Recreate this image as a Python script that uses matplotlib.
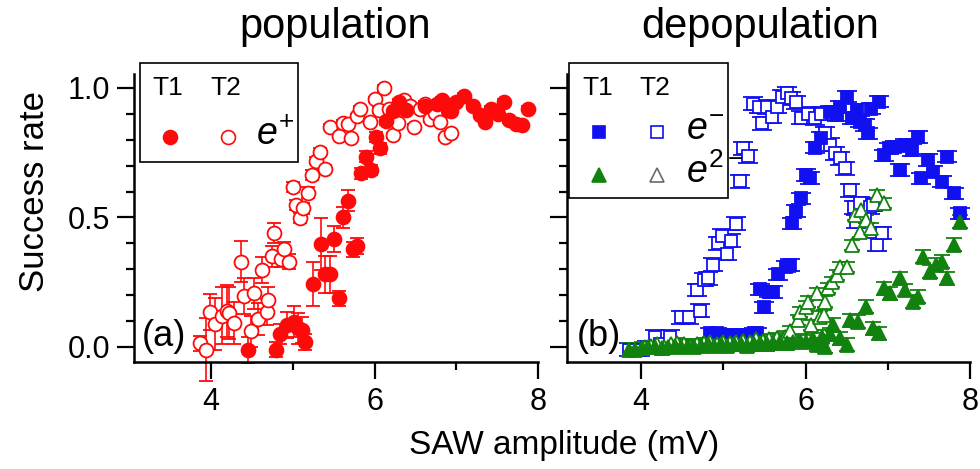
import matplotlib
matplotlib.use("Agg")
import matplotlib.pyplot as plt
from matplotlib.lines import Line2D
from matplotlib.patches import Rectangle

plt.rcParams["font.family"] = ["Liberation Sans", "DejaVu Sans"]
plt.rcParams["mathtext.fontset"] = "custom"
plt.rcParams["mathtext.rm"] = "Liberation Sans"
plt.rcParams["mathtext.it"] = "Liberation Sans:italic"

RED = "#ff0a0a"
BLUE = "#1010f0"
GREEN = "#12820f"

# (a) population, T2 open circles (e+)
pop_t2_x = [3.87, 3.94, 3.99, 4.05, 4.13, 4.19, 4.22, 4.28, 4.37, 4.40, 4.49, 4.53,
            4.58, 4.62, 4.68, 4.70, 4.74, 4.77, 4.86, 4.89, 4.96, 5.00, 5.04, 5.09,
            5.13, 5.19, 5.23, 5.28, 5.33, 5.39, 5.45, 5.56, 5.62, 5.68, 5.71, 5.79,
            5.82, 5.94, 6.01, 6.06, 6.12, 6.18, 6.23, 6.29, 6.36, 6.43, 6.48, 6.56,
            6.62, 6.68, 6.74, 6.80, 6.86, 6.94]
pop_t2_y = [0.014, -0.01, 0.136, 0.09, 0.12, 0.14, 0.13, 0.092, 0.33, 0.196, 0.06, 0.207,
            0.108, 0.297, 0.136, 0.18, 0.35, 0.44, 0.34, 0.377, 0.33, 0.617, 0.548, 0.497,
            0.535, 0.596, 0.664, 0.72, 0.752, 0.686, 0.85, 0.815, 0.866, 0.86, 0.805, 0.89,
            0.92, 0.87, 0.956, 0.915, 1.0, 0.917, 0.818, 0.866, 0.954, 0.93, 0.85, 0.917,
            0.94, 0.88, 0.905, 0.87, 0.81, 0.825]
pop_t2_err = [0.03, 0.12, 0.07, 0.1, 0.11, 0.1, 0.1, 0.08, 0.08, 0.07, 0.06, 0.06,
              0.06, 0.05, 0.05, 0.05, 0.04, 0.04, 0.03, 0.03, 0.03, 0.02, 0.02, 0.02,
              0.02, 0.02, 0.02, 0.015, 0.015, 0.015, 0.01, 0.01, 0.01, 0.01, 0.01, 0.01,
              0.01, 0.01, 0.01, 0.01, 0.01, 0.01, 0.01, 0.01, 0.01, 0.01, 0.01, 0.01,
              0.01, 0.01, 0.01, 0.01, 0.01, 0.01]

# (a) population, T1 filled circles
pop_t1_x = [4.45, 4.80, 4.84, 4.93, 5.01, 5.07, 5.11, 5.15, 5.25, 5.35, 5.39, 5.46,
            5.50, 5.57, 5.61, 5.67, 5.74, 5.79, 5.84, 5.90, 5.96, 6.02, 6.07, 6.14,
            6.23, 6.30, 6.39, 6.62, 6.76, 6.82, 6.90, 6.94, 7.00, 7.09, 7.21, 7.29,
            7.35, 7.43, 7.51, 7.58, 7.65, 7.73, 7.80, 7.88]
pop_t1_y = [-0.01, -0.01, 0.05, 0.085, 0.098, 0.072, 0.066, 0.02, 0.243, 0.397, 0.28, 0.28,
            0.417, 0.188, 0.50, 0.565, 0.377, 0.39, 0.67, 0.735, 0.683, 0.81, 0.767, 0.873,
            0.91, 0.947, 0.915, 0.93, 0.94, 0.954, 0.915, 0.91, 0.947, 0.97, 0.93, 0.896,
            0.87, 0.92, 0.9, 0.947, 0.876, 0.86, 0.857, 0.92]
pop_t1_err = [0.05, 0.03, 0.04, 0.05, 0.06, 0.06, 0.05, 0.03, 0.085, 0.1, 0.07, 0.07,
              0.05, 0.03, 0.04, 0.04, 0.03, 0.03, 0.02, 0.02, 0.02, 0.02, 0.02, 0.015,
              0.01, 0.01, 0.01, 0.01, 0.01, 0.01, 0.01, 0.01, 0.01, 0.01, 0.01, 0.01,
              0.01, 0.01, 0.01, 0.01, 0.01, 0.01, 0.01, 0.01]

# (b) depopulation, T2 open squares (e-)
dep1_t2_x = [3.85, 3.91, 3.99, 4.07, 4.17, 4.23, 4.35, 4.41, 4.49, 4.58, 4.68, 4.72,
             4.76, 4.82, 4.88, 4.94, 4.98, 5.04, 5.10, 5.16, 5.20, 5.24, 5.30, 5.36,
             5.43, 5.47, 5.53, 5.59, 5.65, 5.72, 5.77, 5.82, 5.89, 5.95, 6.03, 6.12,
             6.19, 6.24, 6.30, 6.36, 6.42, 6.48, 6.54, 6.59, 6.61, 6.66, 6.72, 6.78,
             6.82, 6.87, 6.93]
dep1_t2_y = [-0.01, -0.01, -0.01, 0.0, 0.04, 0.01, 0.04, 0.0, 0.115, 0.115, 0.22, 0.14,
             0.26, 0.265, 0.317, 0.40, 0.43, 0.36, 0.41, 0.475, 0.64, 0.767, 0.737, 0.94,
             0.928, 0.864, 0.925, 0.889, 0.928, 0.966, 0.98, 0.96, 0.945, 0.886, 0.9, 0.883,
             0.9, 0.825, 0.78, 0.748, 0.728, 0.69, 0.606, 0.54, 0.484, 0.555, 0.503, 0.54,
             0.55, 0.394, 0.44]

# (b) depopulation, T1 filled squares (e-)
dep1_t1_x = [4.84, 4.92, 5.04, 5.12, 5.20, 5.28, 5.37, 5.41, 5.45, 5.50, 5.56, 5.61,
             5.67, 5.76, 5.81, 5.83, 5.88, 5.94, 6.00, 6.06, 6.12, 6.19, 6.30, 6.38,
             6.42, 6.50, 6.56, 6.62, 6.66, 6.72, 6.76, 6.80, 6.89, 6.95, 7.01, 7.09,
             7.15, 7.21, 7.29, 7.37, 7.41, 7.49, 7.55, 7.66, 7.72, 7.80, 7.88]
dep1_t1_y = [0.053, 0.053, 0.046, 0.046, 0.046, 0.046, 0.053, 0.053, 0.223, 0.153, 0.214, 0.212,
             0.28, 0.31, 0.317, 0.477, 0.525, 0.574, 0.664, 0.653, 0.77, 0.808, 0.909, 0.896,
             0.928, 0.966, 0.883, 0.915, 0.87, 0.857, 0.825, 0.92, 0.947, 0.74, 0.767, 0.773,
             0.683, 0.78, 0.76, 0.81, 0.651, 0.722, 0.677, 0.638, 0.735, 0.593, 0.516]

# (b) depopulation, T2 open triangles (e2-)
dep2_t2_x = [4.05, 4.12, 4.20, 4.28, 4.36, 4.44, 4.52, 4.60, 4.68, 4.76, 4.84, 4.92,
             5.00, 5.08, 5.16, 5.24, 5.32, 5.40, 5.48, 5.56, 5.65, 5.75, 5.81, 5.91,
             5.93, 6.01, 6.03, 6.07, 6.14, 6.18, 6.22, 6.24, 6.27, 6.32, 6.38, 6.42,
             6.50, 6.56, 6.60, 6.66, 6.68, 6.74, 6.80, 6.87, 6.95]
dep2_t2_y = [0.0, 0.005, 0.01, 0.0, 0.01, 0.015, 0.01, 0.005, 0.01, 0.015, 0.02, 0.01,
             0.02, 0.015, 0.02, 0.025, 0.02, 0.03, 0.025, 0.03, 0.034, 0.04, 0.06, 0.104,
             0.136, 0.156, 0.175, 0.085, 0.207, 0.117, 0.124, 0.175, 0.228, 0.252, 0.278, 0.31,
             0.31, 0.394, 0.51, 0.445, 0.53, 0.49, 0.458, 0.587, 0.555]

# (b) depopulation, T1 filled triangles (e2-)
dep2_t1_x = [3.85, 3.93, 4.01, 4.09, 4.17, 4.25, 4.33, 4.41, 4.49, 4.57, 4.65, 4.73,
             4.81, 4.89, 4.97, 5.05, 5.13, 5.21, 5.29, 5.37, 5.45, 5.53, 5.61, 5.69,
             5.77, 5.85, 5.93, 6.01, 6.09, 6.14, 6.20, 6.24, 6.30, 6.34, 6.42, 6.50,
             6.54, 6.64, 6.74, 6.82, 6.89, 6.95, 7.03, 7.15, 7.21, 7.31, 7.37, 7.43,
             7.51, 7.59, 7.66, 7.72, 7.80, 7.88]
dep2_t1_y = [-0.01, -0.01, -0.005, 0.0, 0.0, -0.005, 0.0, 0.005, 0.0, 0.005, 0.0, 0.005,
             0.01, 0.005, 0.01, 0.005, 0.01, 0.01, 0.005, 0.01, 0.015, 0.01, 0.015, 0.02,
             0.015, 0.02, 0.025, 0.02, 0.03, 0.008, 0.04, 0.0, 0.05, 0.085, 0.034, 0.008,
             0.104, 0.098, 0.156, 0.072, 0.053, 0.227, 0.207, 0.265, 0.22, 0.175, 0.194, 0.349,
             0.29, 0.317, 0.33, 0.265, 0.394, 0.484]

W, H = 980, 469


def fx(px):
    return px / W


def fy(py):
    return 1 - py / H


def style_axes(ax, xmin, show_ylabels):
    ax.set_xlim(xmin, 8.0)
    ax.set_ylim(-0.058, 1.054)
    for side in ("top", "right"):
        ax.spines[side].set_visible(False)
    for side in ("left", "bottom"):
        ax.spines[side].set_linewidth(1.8)
    ax.set_xticks([4, 6, 8])
    ax.set_xticks([5, 7], minor=True)
    ax.set_yticks([0.0, 0.5, 1.0])
    ax.set_yticks([0.1, 0.2, 0.3, 0.4, 0.6, 0.7, 0.8, 0.9], minor=True)
    ax.tick_params(which="major", direction="out", length=12, width=1.6, labelsize=22)
    ax.tick_params(which="minor", direction="out", length=6, width=1.6)
    ax.tick_params(axis="x", pad=6)
    ax.tick_params(axis="y", pad=5)
    ax.set_yticklabels(["0.0", "0.5", "1.0"] if show_ylabels else [])


def draw_series(ax, x, y, err, marker, color, filled, ms, capsize):
    ax.errorbar(x, y, yerr=err, fmt=marker, ms=ms, mew=1.3,
                mfc=color if filled else "white", mec=color,
                ecolor=color, elinewidth=1.2, capsize=capsize, capthick=1.2,
                clip_on=False)


def legend_marker(fig, px, py, marker, color, filled, ms):
    fig.add_artist(Line2D([fx(px)], [fy(py)], marker=marker, ms=ms, mew=1.2,
                          mfc=color if filled else "white", mec=color,
                          linestyle="none", transform=fig.transFigure))


def main():
    fig = plt.figure(figsize=(9.8, 4.69), dpi=100)
    ax_a = fig.add_axes([fx(134), fy(362), 404 / W, 288 / H])
    ax_b = fig.add_axes([fx(567), fy(362), 403 / W, 288 / H])

    style_axes(ax_a, 3.058, True)
    style_axes(ax_b, 3.10, False)

    draw_series(ax_a, pop_t2_x, pop_t2_y, pop_t2_err, "o", RED, False, 10, 5)
    draw_series(ax_a, pop_t1_x, pop_t1_y, pop_t1_err, "o", RED, True, 10, 5)

    draw_series(ax_b, dep1_t2_x, dep1_t2_y, 0.025, "s", BLUE, False, 9, 7)
    draw_series(ax_b, dep1_t1_x, dep1_t1_y, 0.022, "s", BLUE, True, 9, 7)
    draw_series(ax_b, dep2_t2_x, dep2_t2_y, 0.02, "^", GREEN, False, 10, 6)
    draw_series(ax_b, dep2_t1_x, dep2_t1_y, 0.025, "^", GREEN, True, 10, 6)

    ax_a.text(0.02, 0.09, "(a)", transform=ax_a.transAxes, fontsize=26, va="center")
    ax_b.text(0.025, 0.09, "(b)", transform=ax_b.transAxes, fontsize=26, va="center")

    fig.text(fx(335), fy(27), "population", fontsize=30, ha="center", va="center")
    fig.text(fx(760), fy(27), "depopulation", fontsize=30, ha="center", va="center")
    fig.text(fx(564), fy(445), "SAW amplitude (mV)", fontsize=24, ha="center", va="center")
    fig.text(fx(34), fy(191), "Success rate", fontsize=25, rotation=90,
             ha="center", va="center")

    # legend of (a)
    fig.add_artist(Rectangle((fx(140), fy(162)), 158 / W, 99 / H, fill=False,
                             lw=1.2, ec="black", transform=fig.transFigure))
    fig.text(fx(168), fy(88), "T1", fontsize=19, ha="center", va="center")
    fig.text(fx(226), fy(88), "T2", fontsize=19, ha="center", va="center")
    legend_marker(fig, 170, 137, "o", RED, True, 10)
    legend_marker(fig, 228, 137, "o", RED, False, 10)
    fig.text(fx(256), fy(135), r"$e^{+}$", fontsize=27, ha="left", va="center")

    # legend of (b)
    fig.add_artist(Rectangle((fx(569), fy(198)), 159 / W, 135 / H, fill=False,
                             lw=1.2, ec="black", transform=fig.transFigure))
    fig.text(fx(598), fy(88), "T1", fontsize=19, ha="center", va="center")
    fig.text(fx(655), fy(88), "T2", fontsize=19, ha="center", va="center")
    legend_marker(fig, 599, 132, "s", BLUE, True, 9)
    legend_marker(fig, 657, 132, "s", BLUE, False, 9)
    legend_marker(fig, 599, 175, "^", GREEN, True, 10)
    legend_marker(fig, 657, 175, "^", "#607060", False, 10)
    fig.text(fx(686), fy(130), r"$e^{-}$", fontsize=27, ha="left", va="center")
    fig.text(fx(686), fy(172), r"$e^{2-}$", fontsize=27, ha="left", va="center")

    fig.savefig("out.png", dpi=100)
    plt.close(fig)


if __name__ == "__main__":
    main()
